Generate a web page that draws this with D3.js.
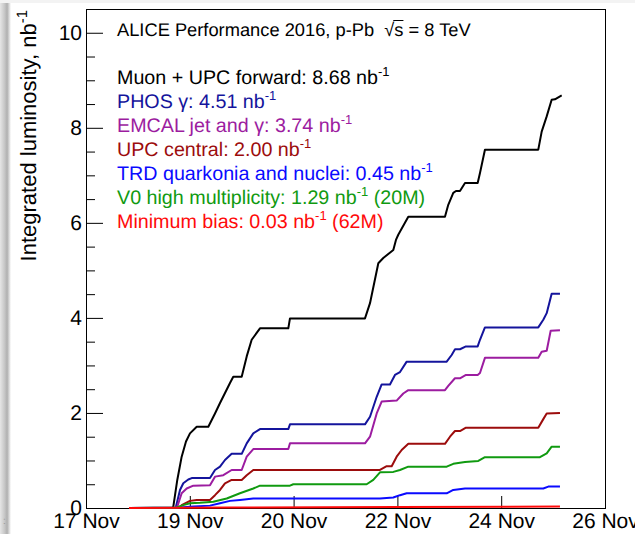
<!DOCTYPE html>
<html>
<head>
<meta charset="utf-8">
<script src="https://cdn.jsdelivr.net/npm/d3@7"></script>
<style>
  body { margin: 0; background: #fff; }
  svg { display: block; font-family: "Liberation Sans", Arial, Helvetica, sans-serif; text-rendering: geometricPrecision; }
  .axis path { display: none; }
  .axis line { stroke: #000; }
  .axis text { fill: #000; font-family: "Liberation Sans", Arial, sans-serif; }
</style>
</head>
<body>
<svg id="chart" width="635" height="534"></svg>
<script>
    /////////////////////////// Data ///////////////////////////
    // x = days since 17 Nov 2016 00:00, y = integrated luminosity (nb^-1)
    const tickDays = [0, 1.8, 3.6, 5.4, 7.2, 9];
    const tickLabels = ["17 Nov", "19 Nov", "20 Nov", "22 Nov", "24 Nov", "26 Nov"];
    const yMajorTicks = [0, 2, 4, 6, 8, 10];

    const muonUpcForward = [[0.746, 0], [1.50, 0], [1.514, 0.03], [1.583, 0.59], [1.659, 1.08], [1.734, 1.40], [1.803, 1.57],
      [1.920, 1.71], [2.121, 1.71], [2.237, 1.99], [2.324, 2.21], [2.497, 2.63], [2.554, 2.76], [2.700, 2.76],
      [2.787, 3.19], [2.873, 3.54], [3.017, 3.78], [3.508, 3.78], [3.537, 3.99], [4.838, 3.99], [4.925, 4.31],
      [5.069, 5.15], [5.155, 5.26], [5.329, 5.43], [5.375, 5.64], [5.415, 5.75], [5.589, 6.13], [6.225, 6.13],
      [6.282, 6.38], [6.369, 6.63], [6.416, 6.67], [6.485, 6.67], [6.572, 6.84], [6.792, 6.84], [6.832, 7.05],
      [6.918, 7.54], [7.843, 7.54], [7.902, 7.92], [7.989, 8.24], [8.075, 8.59], [8.132, 8.60], [8.249, 8.68]];

    const phosGamma = [[0.746, 0], [1.55, 0], [1.561, 0.03], [1.630, 0.38], [1.687, 0.52], [1.774, 0.60], [1.833, 0.63],
      [2.150, 0.63], [2.237, 0.80], [2.324, 0.87], [2.410, 1.01], [2.526, 1.14], [2.700, 1.14], [2.787, 1.36],
      [2.901, 1.57], [3.017, 1.66], [3.508, 1.66], [3.537, 1.76], [4.838, 1.76], [4.925, 1.92], [5.041, 2.34],
      [5.127, 2.60], [5.271, 2.60], [5.358, 2.80], [5.445, 2.86], [5.561, 3.08], [6.255, 3.08], [6.341, 3.22],
      [6.399, 3.34], [6.485, 3.34], [6.589, 3.40], [6.792, 3.40], [6.832, 3.54], [6.918, 3.80], [7.843, 3.80],
      [7.930, 3.96], [7.989, 4.10], [8.075, 4.51], [8.219, 4.51]];

    const emcalJetGamma = [[0.746, 0], [1.57, 0], [1.583, 0.03], [1.659, 0.31], [1.746, 0.41], [1.861, 0.47], [2.150, 0.48],
      [2.237, 0.66], [2.381, 0.69], [2.526, 0.80], [2.700, 0.80], [2.787, 1.08], [2.901, 1.24], [3.508, 1.24],
      [3.537, 1.36], [4.838, 1.36], [4.925, 1.50], [5.041, 1.99], [5.127, 2.24], [5.387, 2.26], [5.502, 2.41],
      [5.589, 2.48], [6.225, 2.48], [6.282, 2.57], [6.398, 2.73], [6.485, 2.73], [6.589, 2.80], [6.792, 2.80],
      [6.832, 2.84], [6.918, 3.16], [7.843, 3.16], [7.902, 3.29], [7.989, 3.31], [8.058, 3.73], [8.219, 3.74]];

    const upcCentral = [[0.746, 0], [1.60, 0], [1.659, 0.06], [1.803, 0.15], [1.920, 0.17], [2.150, 0.17], [2.237, 0.27],
      [2.324, 0.38], [2.410, 0.52], [2.526, 0.59], [2.700, 0.59], [2.787, 0.69], [2.901, 0.80], [5.098, 0.80],
      [5.214, 0.88], [5.301, 0.88], [5.387, 1.08], [5.474, 1.22], [5.589, 1.35], [6.225, 1.35], [6.312, 1.50],
      [6.398, 1.62], [6.485, 1.62], [6.589, 1.69], [7.843, 1.69], [7.930, 1.87], [7.989, 1.99], [8.219, 2.00]];

    const trdQuarkonia = [[0.746, 0], [1.630, 0.01], [1.861, 0.03], [2.150, 0.05], [2.324, 0.10], [2.497, 0.15],
      [2.670, 0.17], [2.901, 0.20], [5.098, 0.20], [5.329, 0.22], [5.445, 0.27], [5.561, 0.31], [6.255, 0.31],
      [6.369, 0.38], [6.572, 0.41], [7.930, 0.41], [8.017, 0.45], [8.219, 0.45]];

    const v0HighMult = [[0.746, 0], [1.573, 0.01], [1.687, 0.06], [1.803, 0.10], [1.977, 0.11], [2.207, 0.13],
      [2.440, 0.20], [2.670, 0.31], [2.901, 0.41], [3.017, 0.47], [3.537, 0.47], [3.595, 0.50], [4.867, 0.50],
      [4.982, 0.59], [5.098, 0.75], [5.329, 0.76], [5.445, 0.80], [5.589, 0.87], [6.255, 0.87], [6.369, 0.93],
      [6.572, 0.97], [6.803, 0.99], [6.918, 1.07], [7.872, 1.07], [7.989, 1.15], [8.075, 1.29], [8.219, 1.29]];

    const minimumBias = [[0.746, 0], [2.5, 0.01], [5.4, 0.02], [8.219, 0.03]];

    const seriesData = [muonUpcForward, phosGamma, emcalJetGamma, upcCentral, trdQuarkonia, v0HighMult, minimumBias];
    const seriesNames = ["Muon + UPC forward", "PHOS γ", "EMCAL jet and γ", "UPC central",
      "TRD quarkonia and nuclei", "V0 high multiplicity", "Minimum bias"];
    const seriesTotals = ["8.68", "4.51", "3.74", "2.00", "0.45", "1.29", "0.03"];
    const seriesExtras = ["", "", "", "", "", " (20M)", " (62M)"];
    const seriesColors = ["#000000", "#14149c", "#9c1ca0", "#9c0c0c", "#0a0aff", "#109a10", "#ff0a0a"];

    /////////////////////////// Chart ///////////////////////////
    const svg = d3.select('#chart');
    const margin = { left: 86, right: 30, top: 9, bottom: 26 };
    const width = +svg.attr("width");
    const height = +svg.attr("height");

    const x = d3.scaleLinear().domain([0, 9]).range([margin.left, width - margin.right]);
    const y = d3.scaleLinear().domain([0, 10.5]).range([height - margin.bottom, margin.top]);

    //_________________ screenshot edge (grey strip on the left)
    const defs = svg.append("defs");
    const grad = defs.append("linearGradient").attr("id", "edge");
    grad.append("stop").attr("offset", "0%").attr("stop-color", "#e6e6e6");
    grad.append("stop").attr("offset", "40%").attr("stop-color", "#c8c8c8");
    grad.append("stop").attr("offset", "65%").attr("stop-color", "#b0b0b0");
    grad.append("stop").attr("offset", "100%").attr("stop-color", "#ffffff");
    svg.append("rect").attr("x", 0).attr("y", 0).attr("width", 11).attr("height", height).attr("fill", "url(#edge)");
    svg.append("rect").attr("x", 0).attr("y", 0).attr("width", width).attr("height", 3).attr("fill", "#f3f3f3");
    svg.append("text").attr("x", 3).attr("y", 524).attr("font-size", 10).attr("fill", "#999").text(":");

    //_________________ Axes
    const xAxis = d3.axisBottom(x)
      .tickValues(tickDays)
      .tickFormat((d, i) => tickLabels[i])
      .tickSizeInner(-12).tickSizeOuter(0).tickPadding(4);
    svg.append("g").attr("class", "axis")
      .attr("transform", `translate(0,${y(0)})`)
      .call(xAxis)
      .selectAll("text").attr("font-size", 21).attr("dy", "0.75em");

    const yAxis = d3.axisLeft(y)
      .tickValues(yMajorTicks)
      .tickFormat(d3.format("d"))
      .tickSizeInner(-17).tickSizeOuter(0).tickPadding(4);
    svg.append("g").attr("class", "axis")
      .attr("transform", `translate(${margin.left},0)`)
      .call(yAxis)
      .selectAll("text").attr("font-size", 21);

    const yMinor = d3.axisLeft(y)
      .tickValues(d3.range(0, 10.51, 0.5).filter(v => v % 2 !== 0))
      .tickFormat("")
      .tickSizeInner(-9).tickSizeOuter(0);
    svg.append("g").attr("class", "axis")
      .attr("transform", `translate(${margin.left},0)`)
      .call(yMinor);

    // frame
    svg.append("rect")
      .attr("x", x.range()[0] + 0.5).attr("y", y.range()[1] + 0.5)
      .attr("width", x.range()[1] - x.range()[0]).attr("height", y.range()[0] - y.range()[1])
      .attr("fill", "none").attr("stroke", "#000");

    // y title
    const yTitle = svg.append("text")
      .attr("transform", `translate(36,${y.range()[1] + 1}) rotate(-90)`)
      .attr("text-anchor", "end")
      .attr("font-size", 22);
    yTitle.append("tspan").text("Integrated luminosity, nb");
    yTitle.append("tspan").attr("font-size", 15).attr("dy", -9).text("-1");

    //_________________ Curves
    const line = d3.line().x(d => x(d[0])).y(d => y(d[1]));
    svg.append("g").selectAll("path")
      .data(seriesData)
      .enter().append("path")
      .attr("d", line)
      .attr("fill", "none")
      .attr("stroke", (d, i) => seriesColors[i])
      .attr("stroke-width", 2)
      .attr("stroke-linejoin", "round");

    //_________________ Legend
    const legendX = 117;
    const title = svg.append("text")
      .attr("x", legendX).attr("y", 36)
      .attr("font-size", 18.3)
      .style("white-space", "pre")
      .text("ALICE Performance 2016, p-Pb  √s = 8 TeV");
    // overline for the square root
    const tNode = title.node();
    const txt = tNode.textContent;
    const iRoot = txt.indexOf("√");
    const rootBox = tNode.getExtentOfChar(iRoot);
    const sEnd = tNode.getEndPositionOfChar(iRoot + 1);
    svg.append("line")
      .attr("x1", rootBox.x + rootBox.width - 1).attr("x2", sEnd.x)
      .attr("y1", rootBox.y + 1.5).attr("y2", rootBox.y + 1.5)
      .attr("stroke", "#000").attr("stroke-width", 1);

    const legend = svg.append("g").selectAll("text")
      .data(seriesNames)
      .enter().append("text")
      .attr("x", legendX)
      .attr("y", (d, i) => 84 + i * 24)
      .attr("font-size", 19.7)
      .attr("fill", (d, i) => seriesColors[i]);
    legend.append("tspan").text((d, i) => `${d}: ${seriesTotals[i]} nb`);
    legend.append("tspan").attr("font-size", 13).attr("dy", -8).text("-1");
    legend.append("tspan").attr("dy", 8).text((d, i) => seriesExtras[i]);
</script>
</body>
</html>
